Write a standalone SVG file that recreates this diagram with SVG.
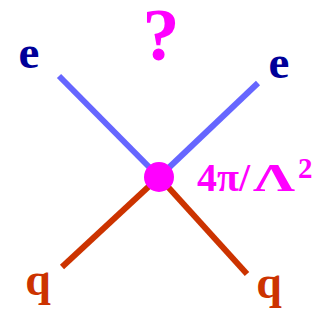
<svg xmlns="http://www.w3.org/2000/svg" width="329" height="321" viewBox="0 0 329 321">
<style>
.lbl{font-family:"Liberation Serif","Times New Roman",serif;font-weight:bold;}
.e{fill:#000099;font-size:47px;text-anchor:middle;}
.q{fill:#CC3300;font-size:46px;text-anchor:middle;}
.m{fill:#FF00FF;}
.f{font-size:40px;}
.lep{stroke:#6666FF;stroke-width:6;fill:none;}
.qrk{stroke:#CC3300;stroke-width:6;fill:none;}
</style>
<rect width="329" height="321" fill="#fff"/>
<g id="connectors">
<line class="lep" x1="59" y1="76" x2="159" y2="177"/>
<line class="lep" x1="258" y1="83" x2="159" y2="177"/>
<line class="qrk" x1="62" y1="267" x2="159" y2="177"/>
<line class="qrk" x1="247" y1="274" x2="159" y2="177"/>
</g>
<g id="vertex">
<circle cx="159" cy="177" r="15" fill="#FF00FF"/>
<text class="lbl m f" x="197" y="191">4π/</text>
<text class="lbl m f" x="253" y="191" textLength="42" lengthAdjust="spacingAndGlyphs">Λ</text>
<text class="lbl m" x="298" y="178" font-size="29">2</text>
</g>
<g id="question"><text class="lbl m" x="161" y="60" font-size="74" text-anchor="middle">?</text></g>
<g id="e1"><text class="lbl e" x="29" y="67.5">e</text></g>
<g id="e2"><text class="lbl e" x="279" y="77.5">e</text></g>
<g id="q1"><text class="lbl q" x="38" y="295">q</text></g>
<g id="q2"><text class="lbl q" x="269" y="298">q</text></g>
</svg>
